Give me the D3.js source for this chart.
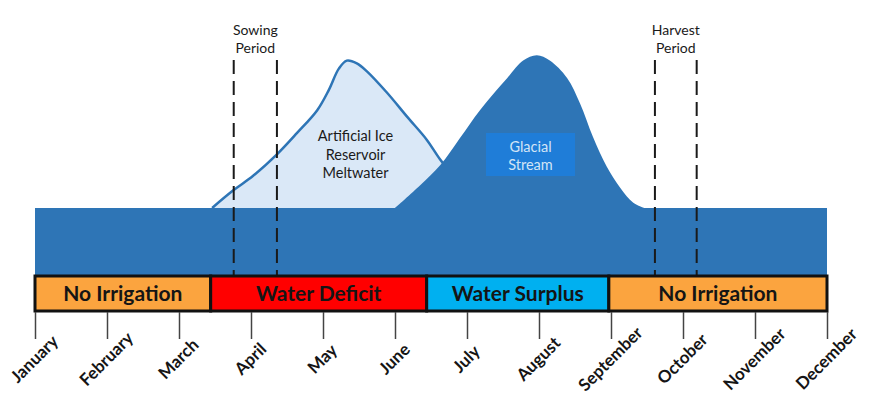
<!DOCTYPE html>
<html>
<head>
<meta charset="utf-8">
<script src="https://cdn.jsdelivr.net/npm/d3@7"></script>
<style>
  body { margin: 0; background: #fff; }
  svg { display: block; font-family: Lato, "Open Sans", sans-serif; }
</style>
</head>
<body>
<svg width="876" height="405"></svg>
<script>
// months along the bottom
const months = ['January', 'February', 'March', 'April', 'May', 'June',
  'July', 'August', 'September', 'October', 'November', 'December'];

// water available (arbitrary units), month position is fractional
const baseFlow = 25;
const baseMonths = [0, 11];

const iceMonths = [2.46, 2.75, 3.03, 3.36, 3.64, 3.92, 4.08, 4.22, 4.33, 4.47, 4.61, 4.89, 5.17, 5.44, 5.63, 5.90, 6.18];
const iceFlow   = [25, 31.5, 37, 45, 53, 61.5, 69, 77, 80, 79, 76, 68, 59, 50.5, 43, 34, 25];

const glacierMonths = [5.00, 5.35, 5.63, 5.90, 6.18, 6.56, 6.78, 6.97, 7.15, 7.39, 7.57, 7.75, 7.94, 8.13, 8.31, 8.47];
const glacierFlow   = [25, 33.5, 41, 51, 61.5, 73.5, 80, 82, 80, 73.5, 64, 51.5, 40.5, 32.5, 27, 25];

// irrigation status bar
const statusLabels = ['No Irrigation', 'Water Deficit', 'Water Surplus', 'No Irrigation'];
const statusStart  = [0, 2.44, 5.44, 7.97];
const statusEnd    = [2.44, 5.44, 7.97, 11];
const statusColors = ['#fba43f', '#ff0000', '#00b0f0', '#fba43f'];

// sowing / harvest windows
const periodLabels = [['Sowing', 'Period'], ['Harvest', 'Period']];
const periodStart  = [2.76, 8.61];
const periodEnd    = [3.36, 9.19];

const svg = d3.select('svg');

const x = d3.scaleLinear().domain([0, 11]).range([35, 827]);
const y = d3.scaleLinear().domain([0, 100]).range([275, 7]);

const ice = iceMonths.map((m, i) => ({m: m, v: iceFlow[i]}));
const glacier = glacierMonths.map((m, i) => ({m: m, v: glacierFlow[i]}));
const base = baseMonths.map(m => ({m: m, v: baseFlow}));

const curve = d3.curveCatmullRom.alpha(0.5);

const area = d3.area()
  .x(d => x(d.m))
  .y0(y(baseFlow))
  .y1(d => y(d.v))
  .curve(curve);

const line = d3.line()
  .x(d => x(d.m))
  .y(d => y(d.v))
  .curve(curve);

// artificial ice reservoir meltwater
svg.append('path').attr('d', area(ice)).attr('fill', '#dae8f7');
svg.append('path').attr('d', line(ice))
  .attr('fill', 'none').attr('stroke', '#2e75b6').attr('stroke-width', 2.5);

// glacial stream
svg.append('path').attr('d', area(glacier)).attr('fill', '#2e75b6');

// base flow band
svg.append('path')
  .attr('d', d3.area().x(d => x(d.m)).y0(y(0)).y1(d => y(d.v))(base))
  .attr('fill', '#2e75b6');

// labels on the areas
svg.append('text')
  .attr('text-anchor', 'middle')
  .attr('font-size', 14.5)
  .attr('fill', '#1a1a1a')
  .selectAll('tspan')
  .data(['Artificial Ice', 'Reservoir', 'Meltwater'])
  .enter().append('tspan')
  .attr('x', 355.5)
  .attr('y', (d, i) => 141 + i * 18.5)
  .text(d => d);

svg.append('rect')
  .attr('x', 486).attr('y', 133).attr('width', 89).attr('height', 43)
  .attr('fill', '#1f7dd8');
svg.append('text')
  .attr('text-anchor', 'middle')
  .attr('font-size', 14.5)
  .attr('fill', '#d2e4f6')
  .selectAll('tspan')
  .data(['Glacial', 'Stream'])
  .enter().append('tspan')
  .attr('x', 530.5)
  .attr('y', (d, i) => 152 + i * 18)
  .text(d => d);

// sowing and harvest dashed lines
periodLabels.forEach((lab, i) => {
  [periodStart[i], periodEnd[i]].forEach(m => {
    svg.append('line')
      .attr('x1', x(m)).attr('x2', x(m))
      .attr('y1', 60).attr('y2', y(0))
      .attr('stroke', '#1a1a1a').attr('stroke-width', 2)
      .attr('stroke-dasharray', '14,7');
  });
  svg.append('text')
    .attr('text-anchor', 'middle')
    .attr('font-size', 14)
    .attr('fill', '#1a1a1a')
    .selectAll('tspan')
    .data(lab)
    .enter().append('tspan')
    .attr('x', x((periodStart[i] + periodEnd[i]) / 2))
    .attr('y', (d, j) => 35 + j * 18)
    .text(d => d);
});

// status bar
const bar = svg.append('g');
bar.selectAll('rect')
  .data(statusLabels)
  .enter().append('rect')
  .attr('x', (d, i) => x(statusStart[i]))
  .attr('y', 276)
  .attr('width', (d, i) => x(statusEnd[i]) - x(statusStart[i]))
  .attr('height', 35)
  .attr('fill', (d, i) => statusColors[i])
  .attr('stroke', '#111')
  .attr('stroke-width', 3);

bar.selectAll('text')
  .data(statusLabels)
  .enter().append('text')
  .attr('x', (d, i) => x((statusStart[i] + statusEnd[i]) / 2))
  .attr('y', 301)
  .attr('text-anchor', 'middle')
  .attr('font-size', 21)
  .attr('font-weight', 'bold')
  .attr('fill', '#151515')
  .text(d => d);

// month axis
const axis = d3.axisBottom(x)
  .tickValues(d3.range(12))
  .tickFormat(i => months[i])
  .tickSize(27)
  .tickPadding(0);

const ax = svg.append('g')
  .attr('transform', 'translate(0,312)')
  .call(axis);
ax.select('.domain').remove();
ax.selectAll('.tick line').attr('stroke', '#444').attr('stroke-width', 1.5);
ax.selectAll('.tick text')
  .attr('y', 0).attr('dy', 0)
  .attr('transform', 'translate(0,48) rotate(-45)')
  .attr('dominant-baseline', 'middle')
  .attr('text-anchor', 'middle')
  .attr('font-family', 'Lato, sans-serif')
  .attr('font-size', 17)
  .attr('font-weight', 'bold')
  .attr('fill', '#151515');
</script>
</body>
</html>
